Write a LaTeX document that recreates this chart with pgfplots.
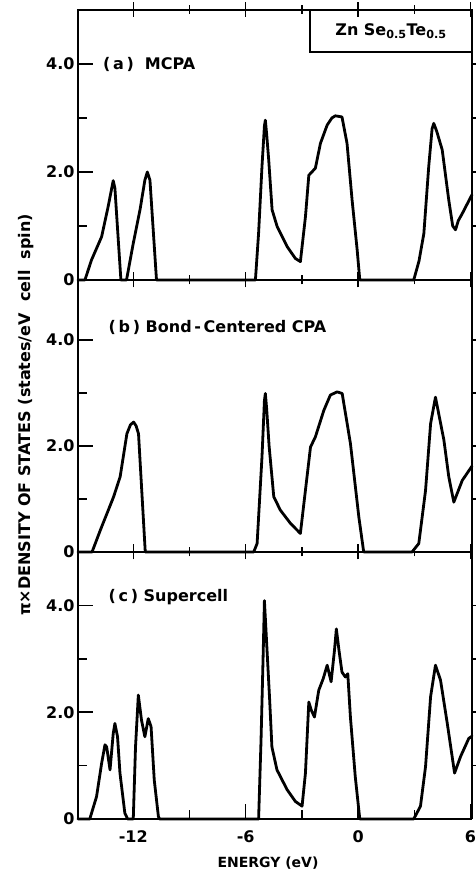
\documentclass[border=0pt]{standalone}
\usepackage{fontspec}
\setmainfont{DejaVu Sans}
\usepackage{pgfplots}
\pgfplotsset{compat=1.18}
\pgfplotsset{
  panel/.style={
    scale only axis, width=394pt, xmin=-14.95, xmax=6.08,
    anchor=south west, clip=false,
    axis line style={line width=1.8pt},
    xtick={-12,-6,0,6}, minor xtick={-9,-3,3},
    ytick={0,2,4}, yticklabels={0,2.0,4.0}, minor ytick={1,3},
    ytick pos=left,
    major tick length=15pt, minor tick length=9pt,
    tick style={line width=1.5pt, black},
    tick label style={font=\fontsize{16}{16}\selectfont\bfseries},
  },
}
\tikzset{
  dos/.style={black, line width=2.8pt, line join=round, line cap=round},
  plab/.style={anchor=west, font=\fontsize{16}{16}\selectfont\bfseries},
}
\begin{document}
\begin{tikzpicture}[x=1pt,y=1pt]
% panel (a)
\begin{axis}[panel, at={(78pt,596pt)}, height=270pt, ymin=0, ymax=5,
  xticklabels={}, xtick align=center]
\addplot[dos, no marks] coordinates {
(-14.95,0) (-14.58,0) (-14.23,0.37) (-13.69,0.8) (-13.34,1.36) (-13.15,1.7) (-13.07,1.84) (-12.98,1.7) (-12.8,0.74) (-12.66,0) (-12.36,0) (-12.0,0.68) (-11.64,1.3) (-11.38,1.85) (-11.25,2.0) (-11.11,1.85) (-10.76,0) (-5.48,0) (-5.31,0.87) (-5.13,2.1) (-5.0,2.85) (-4.95,2.96) (-4.88,2.7) (-4.77,2.22) (-4.59,1.3) (-4.32,0.99) (-3.79,0.62) (-3.35,0.4) (-3.08,0.34) (-2.81,1.17) (-2.63,1.94) (-2.28,2.07) (-2.01,2.53) (-1.65,2.87) (-1.4,3.0) (-1.22,3.04) (-0.86,3.02) (-0.59,2.53) (-0.32,1.48) (-0.05,0.56) (0.09,0) (2.97,0) (3.25,0.35) (3.51,0.86) (3.77,2.1) (3.95,2.8) (4.04,2.9) (4.2,2.75) (4.49,2.41) (4.84,1.48) (5.05,1.0) (5.2,0.93) (5.35,1.1) (5.56,1.23) (6.08,1.58)
};
\pgfplotsinvokeforeach{1,2,3,4}{\draw[line width=1.5pt] (axis cs:6.08,#1) -- ++(-8pt,0);}
\node[plab] at (axis cs:-13.8,4.0) {(\,a\,)\ \ MCPA};
\draw[line width=1.8pt] (rel axis cs:0.589,0.844) rectangle (rel axis cs:1,1);
\node[font=\fontsize{16}{16}\selectfont\bfseries] at (rel axis cs:0.7945,0.922) {Zn Se\textsubscript{0.5}Te\textsubscript{0.5}};
\end{axis}
% panel (b)
\begin{axis}[panel, at={(78pt,324pt)}, height=272pt, ymin=0, ymax=5.13,
  axis x line*=bottom, axis y line*=box, xticklabels={}, xtick align=center]
\addplot[dos, no marks] coordinates {
(-14.95,0) (-14.2,0) (-13.76,0.41) (-13.05,1.04) (-12.7,1.42) (-12.34,2.23) (-12.15,2.4) (-11.98,2.45) (-11.85,2.38) (-11.72,2.23) (-11.36,0) (-5.57,0) (-5.39,0.16) (-5.13,1.79) (-5.0,2.85) (-4.95,2.99) (-4.88,2.7) (-4.75,2.0) (-4.5,1.04) (-4.15,0.79) (-3.61,0.54) (-3.08,0.35) (-2.54,1.98) (-2.28,2.17) (-1.83,2.67) (-1.48,2.96) (-1.12,3.02) (-0.85,2.99) (-0.41,2.05) (0.04,0.66) (0.3,0) (2.88,0) (3.24,0.16) (3.6,1.16) (3.87,2.42) (4.13,2.92) (4.58,2.11) (4.84,1.42) (5.11,0.94) (5.56,1.35) (6.08,1.62)
};
\pgfplotsinvokeforeach{1,2,3,4}{\draw[line width=1.5pt] (axis cs:6.08,#1) -- ++(-8pt,0);}
\node[plab] at (axis cs:-13.5,4.24) {(\,b\,)\ Bond\,-\,Centered\ CPA};
\end{axis}
% panel (c)
\begin{axis}[panel, at={(78pt,57pt)}, height=267pt, ymin=0, ymax=5,
  axis x line*=bottom, axis y line*=box, xtick align=inside,
  xticklabels={-12,-6,0,6},
  xticklabel style={yshift=-8pt}]
\addplot[dos, no marks] coordinates {
(-14.95,0) (-14.32,0) (-13.96,0.42) (-13.69,1.04) (-13.51,1.39) (-13.42,1.35) (-13.24,0.92) (-13.07,1.6) (-12.98,1.79) (-12.84,1.54) (-12.71,0.86) (-12.45,0.11) (-12.3,0) (-12.0,0) (-11.88,1.35) (-11.73,2.32) (-11.56,1.85) (-11.38,1.54) (-11.2,1.88) (-11.05,1.73) (-10.88,0.73) (-10.66,0.05) (-10.6,0) (-5.31,0) (-5.18,1.48) (-5.07,3.03) (-5.0,4.09) (-4.86,3.16) (-4.72,2.23) (-4.6,1.35) (-4.33,0.92) (-3.79,0.55) (-3.35,0.33) (-2.99,0.24) (-2.81,0.86) (-2.63,2.19) (-2.5,2.04) (-2.33,1.91) (-2.1,2.41) (-1.86,2.63) (-1.65,2.88) (-1.44,2.57) (-1.26,3.16) (-1.16,3.56) (-1.02,3.16) (-0.86,2.75) (-0.68,2.66) (-0.55,2.72) (-0.41,1.91) (-0.15,0.79) (0.09,0) (2.97,0) (3.33,0.24) (3.6,0.98) (3.87,2.29) (4.13,2.88) (4.4,2.6) (4.76,1.79) (5.15,0.86) (5.47,1.17) (5.91,1.51) (6.08,1.55)
};
\pgfplotsinvokeforeach{1,2,3,4}{\draw[line width=1.5pt] (axis cs:6.08,#1) -- ++(-8pt,0);}
\node[plab] at (axis cs:-13.5,4.15) {(\,c\,)\ Supercell};
\end{axis}
\node[rotate=90, font=\fontsize{16}{16}\selectfont\bfseries] at (26pt,461pt) {π×DENSITY OF STATES (states/eV\ \ cell\ \ spin)};
\node[font=\fontsize{14}{14}\selectfont\bfseries] at (268pt,13pt) {ENERGY (eV)};
\pgfresetboundingbox
\path[use as bounding box] (0pt,0pt) rectangle (475pt,876pt);
\end{tikzpicture}
\end{document}
